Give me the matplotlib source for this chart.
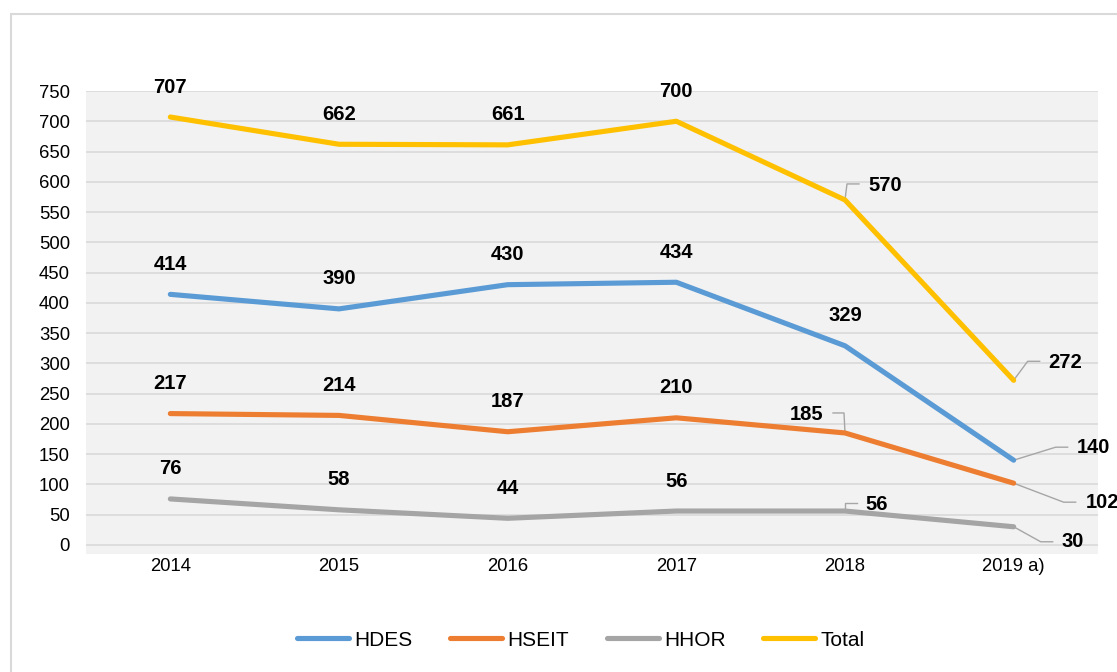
import matplotlib
matplotlib.use("Agg")
import matplotlib.pyplot as plt
from matplotlib.patches import Rectangle
import numpy as np

plt.rcParams['font.family'] = ['Liberation Sans', 'DejaVu Sans']

years = ['2014', '2015', '2016', '2017', '2018', '2019 a)']
hdes = [414, 390, 430, 434, 329, 140]
hseit = [217, 214, 187, 210, 185, 102]
hhor = [76, 58, 44, 56, 56, 30]
total = [707, 662, 661, 700, 570, 272]

series = [('HDES', hdes, '#5B9BD5'),
          ('HSEIT', hseit, '#ED7D31'),
          ('HHOR', hhor, '#A5A5A5'),
          ('Total', total, '#FFC000')]

# labels with leader lines: (series, index) -> leader pts, text pos, align  (pixels, y down)
special = {
    ('Total', 4): ([(0, 0), (2, -16), (14, -16)], (23, -14), 'left'),
    ('HSEIT', 4): ([(0, 0), (-1, -20), (-12, -20)], (-22, -18), 'right'),
    ('HHOR', 4): ([(0, 0), (0, -8), (12, -8)], (20, -7), 'left'),
    ('Total', 5): ([(0, 0), (14, -19), (26, -19)], (35, -18), 'left'),
    ('HDES', 5): ([(0, 0), (42, -13), (54, -13)], (63, -13), 'left'),
    ('HSEIT', 5): ([(0, 0), (50, 19), (62, 19)], (72, 19), 'left'),
    ('HHOR', 5): ([(0, 0), (27, 15), (39, 15)], (48, 15), 'left'),
}

W, H = 1117, 672
fig = plt.figure(figsize=(W / 100, H / 100), dpi=100)
ax = fig.add_axes([86 / W, 1 - 554 / H, 1012 / W, 463 / H])
ax.set_facecolor('#F2F2F2')

x = np.arange(len(years))
for name, vals, col in series:
    ax.plot(x, vals, color=col, lw=3.7, solid_capstyle='round',
            solid_joinstyle='round', label=name, zorder=3)

ax.set_xlim(-0.5, len(years) - 0.5)
ax.set_ylim(-15, 750)
ax.set_yticks(np.arange(0, 751, 50))
ax.set_xticks(x)
ax.set_xticklabels(years)
ax.tick_params(length=0, labelsize=13.3, colors='black')
ax.tick_params(axis='y', pad=11.5)
ax.tick_params(axis='x', pad=3)
ax.grid(axis='y', color='#D9D9D9', lw=1.2, zorder=1)
for s in ax.spines.values():
    s.set_visible(False)

fig.canvas.draw()
inv = ax.transData.inverted()
for name, vals, col in series:
    for i, v in enumerate(vals):
        px, py = ax.transData.transform((x[i], v))
        if (name, i) in special:
            pts, (tx, ty), ha = special[(name, i)]
            d = inv.transform([(px + a, py - b) for a, b in pts])
            ax.plot(d[:, 0], d[:, 1], color='#A6A6A6', lw=1.0, zorder=2, clip_on=False)
            ax.annotate(str(v), (x[i], v), xytext=(tx, -ty), textcoords='offset pixels',
                        ha=ha, va='center', fontsize=14.5, fontweight='bold',
                        annotation_clip=False)
        else:
            ax.annotate(str(v), (x[i], v), xytext=(0, 30), textcoords='offset pixels',
                        ha='center', va='center', fontsize=14.5, fontweight='bold')

fig.legend(loc='center', bbox_to_anchor=(581 / W, 1 - 640 / H), ncol=4,
           frameon=False, fontsize=15, handlelength=2.5, handletextpad=0.25,
           columnspacing=1.8)

fig.patches.append(Rectangle((11 / W, -0.1), 1.2, (H - 14) / H + 0.1,
                             transform=fig.transFigure, fill=False,
                             edgecolor='#D9D9D9', lw=1.5))

fig.savefig('out.png', dpi=100)
